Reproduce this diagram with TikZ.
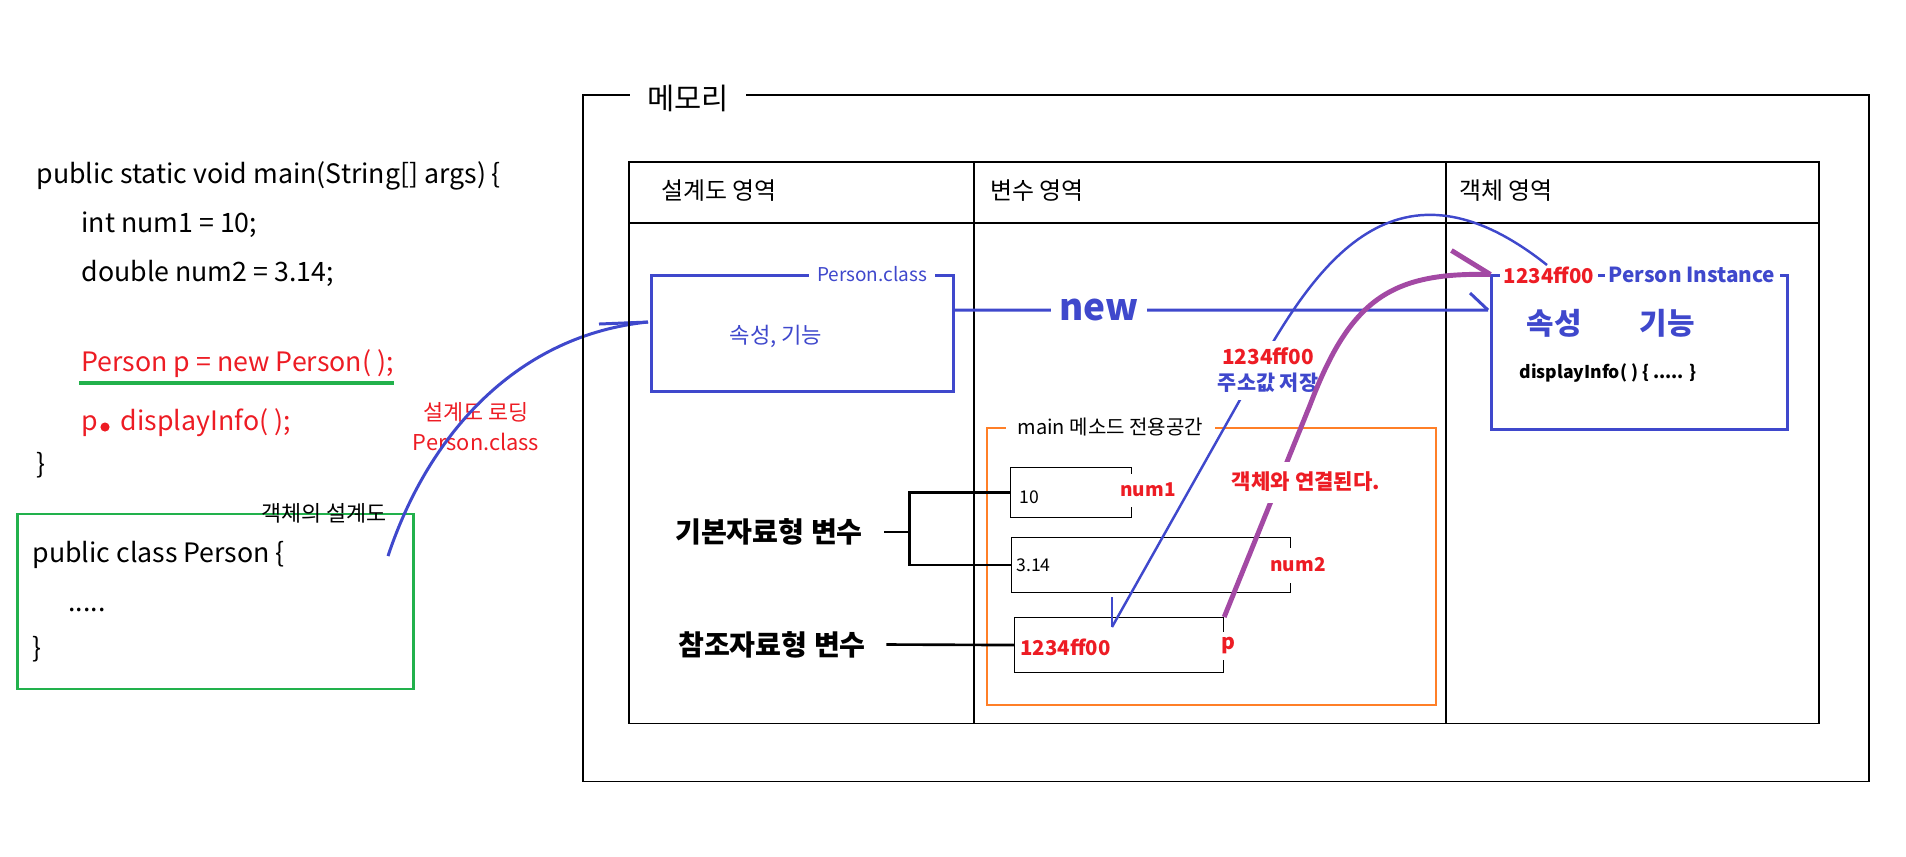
\documentclass[tikz,border=0pt]{standalone}
\usepackage{fontspec}
\setmainfont{Noto Sans CJK KR}
\usepackage{tikz}
\usetikzlibrary{positioning}
\definecolor{jblue}{HTML}{3F48CC}
\definecolor{jred}{HTML}{ED1C24}
\definecolor{jgreen}{HTML}{22B14C}
\definecolor{jpurple}{HTML}{A349A4}
\definecolor{jorange}{HTML}{FF7F27}

\begin{document}
\begin{tikzpicture}[x=0.01cm, y=-0.01cm, line width=0.3pt,
  code/.style={anchor=base west, inner sep=0pt, font=\fontsize{7.6}{9}\selectfont},
  head/.style={anchor=west, inner sep=0pt, font=\fontsize{6.8}{8}\selectfont},
  tag/.style={fill=white, inner ysep=0.5pt},
  cell/.style={draw, anchor=north west, inner sep=0pt},
  val/.style={anchor=west, inner sep=0pt, font=\fontsize{5}{6}\selectfont},
  vname/.style={fill=white, text=jred, inner xsep=0.5pt, inner ysep=0pt, font=\bfseries\fontsize{5.4}{6}\selectfont},
  kind/.style={inner sep=0pt, font=\bfseries\fontsize{8}{9}\selectfont},
  blueln/.style={draw=jblue, line width=0.85pt},
  purp/.style={draw=jpurple, line width=1.4pt},
  brk/.style={line width=0.75pt}]
\useasboundingbox (0,0) rectangle (1906,856);

\node[code] (main) at (36,183) {public static void main(String[] args) \{};
\node[code] (int) at (81,232) {int num1 = 10;};
\node[code] (dbl) at (81,281) {double num2 = 3.14;};
\node[code, text=jred] (newp) at (81,371) {Person p = new Person( );};
\draw[jgreen, line width=1.1pt] (79,383) -- (394,383);
\node[code, text=jred] (call) at (81,430) {p\hspace{6.5pt}displayInfo( );};
\fill[jred] (105,427) circle[radius=1.3pt];
\node[code] (close) at (36,473) {\}};

\node[draw=jgreen, line width=0.8pt, minimum width=3.95cm, minimum height=1.75cm] (cls) at (215.5,601.5) {};
\node[inner sep=0pt, font=\fontsize{6.2}{7}\selectfont] (clstag) at (324,513) {객체의 설계도};
\node[code] (c1) at (32,562) {public class Person \{};
\node[code] (c2) at (68,611) {.....};
\node[code] (c3) at (32,657) {\}};

\node[text=jred, align=center, inner sep=0pt, font=\fontsize{6.2}{8.5}\selectfont] (load) at (476,427) {설계도 로딩\\Person.class};
\coordinate (loadStart) at (388,556);
\coordinate (loadEnd) at (648,322);
\draw[blueln] (loadStart) .. controls (430,430) and (520,335) .. (loadEnd);
\draw[blueln] (loadEnd) -- +(-49,2);

\draw (583,95) rectangle (1869,781);
\node[fill=white, inner xsep=4.8pt, font=\fontsize{8.4}{10}\selectfont] (mem) at (688,98) {메모리};
\draw (629,162) rectangle (1819,723);
\draw (629,223) -- (1819,223);
\draw (974,162) -- (974,723);
\draw (1446,162) -- (1446,723);
\node[head] (h1) at (661,191) {설계도 영역};
\node[head] (h2) at (990,191) {변수 영역};
\node[head] (h3) at (1459,191) {객체 영역};

\node[draw=jblue, line width=0.85pt, minimum width=3.01cm, minimum height=1.15cm] (pcls) at (802.5,333.5) {};
\node[tag, text=jblue, inner xsep=2.3pt, font=\fontsize{5.4}{6}\selectfont] (pclstag) at (872,274) {Person.class};
\node[text=jblue, font=\fontsize{6.3}{7}\selectfont] (pclsin) at (776,336) {속성, 기능};

\node[draw=jblue, line width=0.85pt, minimum width=2.95cm, minimum height=1.53cm] (inst) at (1639.5,352.5) {};
\node[tag, text=jred, inner xsep=1.2pt, font=\bfseries\fontsize{5.8}{6}\selectfont] (addrtag) at (1549,275) {1234ff00};
\node[tag, text=jblue, inner xsep=1.2pt, font=\bfseries\fontsize{5.9}{6}\selectfont] (insttag) at (1692,275) {Person Instance};
\node[text=jblue, inner sep=0pt, font=\bfseries\fontsize{8.5}{9}\selectfont] (attr) at (1554,323) {속성};
\node[text=jblue, inner sep=0pt, font=\bfseries\fontsize{8.5}{9}\selectfont] (func) at (1667,323) {기능};
\node[inner sep=0pt, font=\bfseries\fontsize{5}{6}\selectfont] (disp) at (1608,373) {displayInfo( ) \{ ..... \}};

\coordinate (newTip) at (1488,310);
\draw[blueln] ([yshift=0.235cm]pcls.east) -- node[pos=0.27, fill=white, inner xsep=2.4pt, inner ysep=0pt, text=jblue, font=\bfseries\fontsize{10.5}{11}\selectfont] (new) {new} (newTip);
\draw[blueln] (newTip) -- +(-18,-17);

\draw[draw=jorange, line width=0.45pt] (987,428) rectangle (1436,705);
\node[fill=white, anchor=west, inner xsep=3.4pt, inner ysep=0.5pt, font=\fontsize{5.7}{6}\selectfont] (stack) at (1005,427) {main 메소드 전용공간};

\node[cell, minimum width=1.21cm, minimum height=0.5cm] (v1) at (1010,467) {};
\node[cell, minimum width=2.79cm, minimum height=0.55cm] (v2) at (1011,537) {};
\node[cell, minimum width=2.09cm, minimum height=0.55cm] (v3) at (1014,617) {};
\node[vname, minimum height=0.33cm] (n1) at (1148,490) {num1};
\node[vname, minimum height=0.35cm] (n2) at (1298,565) {num2};
\node[vname, minimum height=0.28cm, font=\bfseries\fontsize{6}{6}\selectfont] (np) at (1228,646) {p};
\node[val] (x1) at (1019,497) {10};
\node[val] (x2) at (1016,565) {3.14};
\node[val, text=jred, font=\bfseries\fontsize{5.8}{6}\selectfont] (x3) at (1020,647) {1234ff00};

\node[kind] (basic) at (769,532) {기본자료형 변수};
\node[kind] (refv) at (772,644.5) {참조자료형 변수};
\coordinate (fork) at ([xshift=0.46cm]basic.east);
\draw[brk] ([xshift=0.21cm]basic.east) -- (fork);
\draw[brk] (v1.west) -| (fork) |- (v2.west);
\draw[brk] ([xshift=0.2cm]refv.east) -- (v3.west);

\coordinate (addrTop) at (1547,265);
\coordinate (addrTip) at (1112,627);
\draw[draw=jblue, line width=0.7pt] (addrTop) .. controls (1390,140) and (1310,275) .. (1250,382) -- (addrTip);
\draw[draw=jblue, line width=0.7pt] (addrTip) -- +(0,-30);
\node[fill=white, align=center, inner xsep=1pt, inner ysep=2pt, font=\bfseries\fontsize{5.9}{7.4}\selectfont] (addr) at (1268,370) {\textcolor{jred}{1234ff00}\\\textcolor{jblue}{주소값 저장}};

\draw[purp] (v3.north east) -- (1310,405) .. controls (1350,300) and (1390,272) .. (inst.north west);
\draw[purp] (inst.north west) -- +(-39,-24);
\node[fill=white, text=jred, inner xsep=1pt, inner ysep=3pt, font=\bfseries\fontsize{6}{7}\selectfont] (link) at (1306,482) {객체와 연결된다.};
\end{tikzpicture}
\end{document}
